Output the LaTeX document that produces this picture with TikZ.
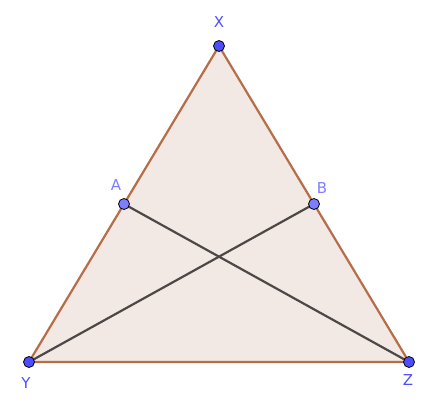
\documentclass[tikz,border=0pt]{standalone}
\usepackage{fontspec}
\setmainfont{DejaVu Sans}
\usepackage{tikz}
\usetikzlibrary{positioning}
\definecolor{edgecol}{RGB}{183,109,71}
\definecolor{fillcol}{RGB}{243,233,228}
\definecolor{segcol}{RGB}{77,72,72}
\definecolor{ptdark}{RGB}{77,77,255}
\definecolor{ptlight}{RGB}{125,125,255}
\tikzstyle{pt} = [circle, draw=black, line width=0.8pt, fill=ptdark, inner sep=0pt, minimum size=11pt]
\tikzstyle{ptfree} = [pt, fill=ptlight]
\tikzstyle{lbl} = [text=ptdark, font=\fontsize{15}{15}\selectfont, inner sep=0pt]
\tikzstyle{lblfree} = [lbl, text=ptlight]
\tikzstyle{side} = [draw=edgecol, line width=2.2pt]
\tikzstyle{seg} = [draw=segcol, line width=2.2pt]

\begin{document}
\begin{tikzpicture}[x=1pt, y=-1pt]
\useasboundingbox (0,0) rectangle (434,412);
% corners
    \coordinate (x) at (219,46);
    \coordinate (y) at (29,362);
    \coordinate (z) at (409,362);
    % points on the sides
    \coordinate (a) at (124,204);
    \coordinate (b) at (314,204);
    \fill [fillcol] (x) -- (y) -- (z) -- cycle;
    \path [side] (x) -- (y) -- (z) -- cycle;
    \path [seg] (a) -- (z);
    \path [seg] (b) -- (y);
    \node [pt] (px) at (x) {};
    \node [pt] (py) at (y) {};
    \node [pt] (pz) at (z) {};
    \node [ptfree] (pa) at (a) {};
    \node [ptfree] (pb) at (b) {};
    \node [lbl] at (219,22) {X};
    \node [lbl] at (26,383) {Y};
    \node [lbl] at (408,380) {Z};
    \node [lblfree] at (116,185) {A};
    \node [lblfree] at (322,188) {B};
\end{tikzpicture}
\end{document}
